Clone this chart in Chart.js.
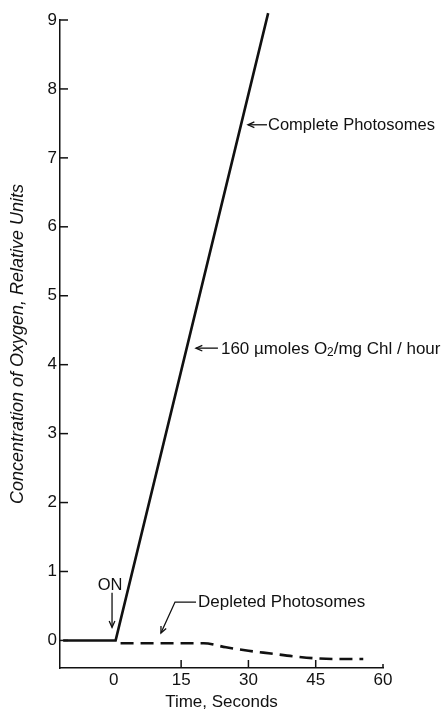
<!DOCTYPE html>
<html>
<head>
<meta charset="utf-8">
<script src="https://cdn.jsdelivr.net/npm/chart.js@4.4.1/dist/chart.umd.min.js"></script>
<style>
  html, body { margin: 0; padding: 0; background: #fff; }
  canvas { display: block; }
</style>
</head>
<body>
<canvas id="c" width="447" height="714"></canvas>
<script>
// ---- data ----
const completeTime = [-11.3, 0.4, 34.4];
const completeO2   = [0, 0, 9.1];
const depletedTime = [1.5, 20, 25, 30, 35, 40, 45, 50, 55.6];
const depletedO2   = [-0.04, -0.04, -0.10, -0.15, -0.19, -0.23, -0.26, -0.27, -0.27];
const xTickValues  = [0, 15, 30, 45, 60];
const yTickValues  = [0, 1, 2, 3, 4, 5, 6, 7, 8, 9];
const xTitle = 'Time, Seconds';
const yTitle = 'Concentration of Oxygen, Relative Units';

const INK = '#111';
const FAMILY = '"Liberation Sans", Arial, Helvetica, sans-serif';
Chart.defaults.font.family = FAMILY;
Chart.defaults.color = INK;

// annotation anchors (data units)
const notes = {
  complete: { tip: [29.9, 7.48], text: 'Complete Photosomes' },
  rate:     { tip: [18.3, 4.24] },
  on:       { text: 'ON', at: [-0.85, 0.80], from: [-0.4, 0.69], to: [-0.4, 0.19] },
  depleted: { tip: [10.5, 0.107], knee: [13.64, 0.557], text: 'Depleted Photosomes' }
};

function arrowHead(ctx, x1, y1, x2, y2, len) {
  const a = Math.atan2(y2 - y1, x2 - x1);
  const w = 0.42;
  ctx.beginPath();
  ctx.moveTo(x2 - len * Math.cos(a - w), y2 - len * Math.sin(a - w));
  ctx.lineTo(x2, y2);
  ctx.lineTo(x2 - len * Math.cos(a + w), y2 - len * Math.sin(a + w));
  ctx.stroke();
}
function arrow(ctx, x1, y1, x2, y2) {
  ctx.beginPath(); ctx.moveTo(x1, y1); ctx.lineTo(x2, y2); ctx.stroke();
  arrowHead(ctx, x1, y1, x2, y2, 7);
}

const annotPlugin = {
  id: 'annot',
  afterDraw(chart) {
    const { ctx, chartArea, scales: { x, y } } = chart;
    ctx.save();
    ctx.strokeStyle = INK; ctx.fillStyle = INK;
    ctx.lineWidth = 1.5; ctx.lineCap = 'butt';
    // inward tick marks
    yTickValues.forEach(v => {
      const py = y.getPixelForValue(v);
      ctx.beginPath(); ctx.moveTo(chartArea.left, py); ctx.lineTo(chartArea.left + 8, py); ctx.stroke();
    });
    xTickValues.forEach(v => {
      if (v === 0) return;
      const px = x.getPixelForValue(v);
      const len = v === 60 ? 4 : 8;
      ctx.beginPath(); ctx.moveTo(px, chartArea.bottom); ctx.lineTo(px, chartArea.bottom - len); ctx.stroke();
    });

    ctx.lineWidth = 1.3;
    let fs = 16.5;
    ctx.font = fs + 'px ' + FAMILY;
    ctx.textBaseline = 'middle';
    ctx.textAlign = 'left';

    // Complete Photosomes
    let tx = x.getPixelForValue(notes.complete.tip[0]);
    let ty = y.getPixelForValue(notes.complete.tip[1]);
    arrow(ctx, tx + 19, ty, tx, ty);
    ctx.fillText(notes.complete.text, tx + 20, ty + 1);

    // rate label
    fs = 17;
    ctx.font = fs + 'px ' + FAMILY;
    tx = x.getPixelForValue(notes.rate.tip[0]);
    ty = y.getPixelForValue(notes.rate.tip[1]);
    arrow(ctx, tx + 22, ty, tx, ty);
    let cx = tx + 25;
    const parts1 = '160 \u00B5moles O';
    ctx.fillText(parts1, cx, ty + 1);
    cx += ctx.measureText(parts1).width;
    ctx.font = (fs * 0.7) + 'px ' + FAMILY;
    ctx.fillText('2', cx, ty + 5);
    cx += ctx.measureText('2').width;
    ctx.font = fs + 'px ' + FAMILY;
    ctx.fillText('/mg Chl / hour', cx, ty + 1);

    // ON
    ctx.font = '16.5px ' + FAMILY;
    ctx.textAlign = 'center';
    ctx.fillText(notes.on.text, x.getPixelForValue(notes.on.at[0]), y.getPixelForValue(notes.on.at[1]));
    arrow(ctx, x.getPixelForValue(notes.on.from[0]), y.getPixelForValue(notes.on.from[1]),
               x.getPixelForValue(notes.on.to[0]), y.getPixelForValue(notes.on.to[1]));

    // Depleted Photosomes
    ctx.textAlign = 'left';
    const kx = x.getPixelForValue(notes.depleted.knee[0]);
    const ky = y.getPixelForValue(notes.depleted.knee[1]);
    const dx = x.getPixelForValue(notes.depleted.tip[0]);
    const dy = y.getPixelForValue(notes.depleted.tip[1]);
    ctx.beginPath(); ctx.moveTo(kx + 21, ky); ctx.lineTo(kx, ky); ctx.lineTo(dx, dy); ctx.stroke();
    arrowHead(ctx, kx, ky, dx, dy, 7);
    ctx.font = '17px ' + FAMILY;
    ctx.fillText(notes.depleted.text, kx + 23, ky);
    ctx.restore();
  }
};

new Chart(document.getElementById('c'), {
  type: 'scatter',
  data: {
    datasets: [
      {
        label: 'Complete Photosomes',
        data: completeTime.map((t, i) => ({ x: t, y: completeO2[i] })),
        showLine: true, borderColor: INK, borderWidth: 2.6,
        pointRadius: 0, clip: false
      },
      {
        label: 'Depleted Photosomes',
        data: depletedTime.map((t, i) => ({ x: t, y: depletedO2[i] })),
        showLine: true, borderColor: INK, borderWidth: 2.6,
        borderDash: [13, 7], cubicInterpolationMode: 'monotone',
        pointRadius: 0, clip: false
      }
    ]
  },
  options: {
    responsive: false,
    animation: false,
    layout: { padding: { top: 20, right: 64, left: 0, bottom: 0 } },
    plugins: { legend: { display: false }, tooltip: { enabled: false } },
    scales: {
      x: {
        type: 'linear', min: -12, max: 60,
        afterBuildTicks: s => { s.ticks = xTickValues.map(v => ({ value: v })); },
        afterFit: s => { s.height = 46; },
        ticks: { font: { size: 17 }, color: INK, padding: 2, maxRotation: 0, autoSkip: false },
        grid: { display: false, drawTicks: false },
        border: { display: true, color: INK, width: 1.5 },
        title: { display: true, text: xTitle, font: { size: 17 }, color: INK, padding: 1 }
      },
      y: {
        type: 'linear', min: -0.4, max: 9,
        afterBuildTicks: s => { s.ticks = yTickValues.map(v => ({ value: v })); },
        afterFit: s => { s.width = 60; },
        ticks: { font: { size: 17 }, color: INK, padding: 3, autoSkip: false },
        grid: { display: false, drawTicks: false },
        border: { display: true, color: INK, width: 1.5 },
        title: { display: true, text: yTitle, font: { size: 18, style: 'italic' }, color: INK, padding: 7 }
      }
    }
  },
  plugins: [annotPlugin]
});
</script>
</body>
</html>
